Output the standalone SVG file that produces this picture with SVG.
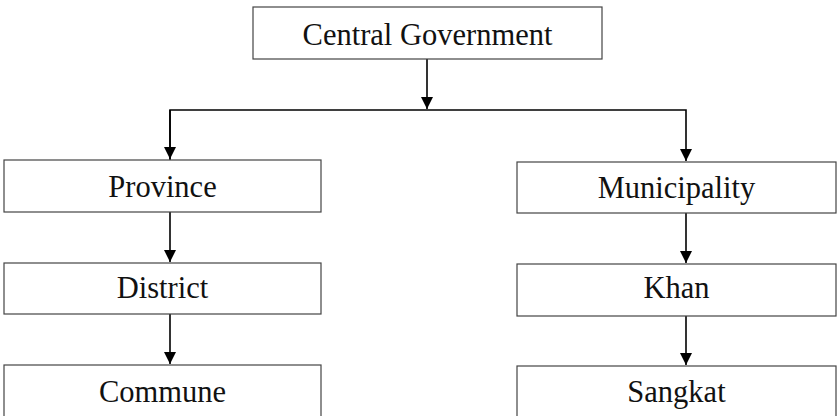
<svg xmlns="http://www.w3.org/2000/svg" width="839" height="416" viewBox="0 0 839 416">
<defs>
<marker id="ah" markerWidth="12" markerHeight="13" refX="12" refY="6" orient="auto" markerUnits="userSpaceOnUse">
<path d="M0,0 L12,6 L0,12 Z" fill="#000"/>
</marker>
<style>
.box{fill:#fff;stroke:#444;stroke-width:1.2}
.lbl{font-family:"Liberation Serif","Times New Roman",serif;font-size:30.5px;fill:#111;text-anchor:middle}
.con{fill:none;stroke:#000;stroke-width:1.6}
</style>
</defs>
<rect width="839" height="416" fill="#fff"/>
<g id="connectors">
<path class="con" d="M427,59 V109" marker-end="url(#ah)"/>
<path class="con" d="M170,160 V110 H686 V161" marker-end="url(#ah)"/>
<path class="con" d="M170,110 V159" marker-end="url(#ah)"/>
<path class="con" d="M170,212 V262" marker-end="url(#ah)"/>
<path class="con" d="M170,314 V364" marker-end="url(#ah)"/>
<path class="con" d="M686,213 V263" marker-end="url(#ah)"/>
<path class="con" d="M686,316 V365" marker-end="url(#ah)"/>
</g>
<g id="central">
<rect class="box" x="253" y="7" width="349" height="52"/>
<text class="lbl" x="427.5" y="45">Central Government</text>
</g>
<g id="province">
<rect class="box" x="4" y="160" width="317" height="52"/>
<text class="lbl" x="162.5" y="197">Province</text>
</g>
<g id="district">
<rect class="box" x="4" y="263" width="317" height="51"/>
<text class="lbl" x="162.5" y="298">District</text>
</g>
<g id="commune">
<rect class="box" x="4" y="365" width="317" height="60"/>
<text class="lbl" x="162.5" y="402">Commune</text>
</g>
<g id="municipality">
<rect class="box" x="517" y="162" width="319" height="51"/>
<text class="lbl" x="676.5" y="198">Municipality</text>
</g>
<g id="khan">
<rect class="box" x="517" y="264" width="319" height="52"/>
<text class="lbl" x="676.5" y="298">Khan</text>
</g>
<g id="sangkat">
<rect class="box" x="517" y="366" width="319" height="60"/>
<text class="lbl" x="676.5" y="402">Sangkat</text>
</g>
</svg>
